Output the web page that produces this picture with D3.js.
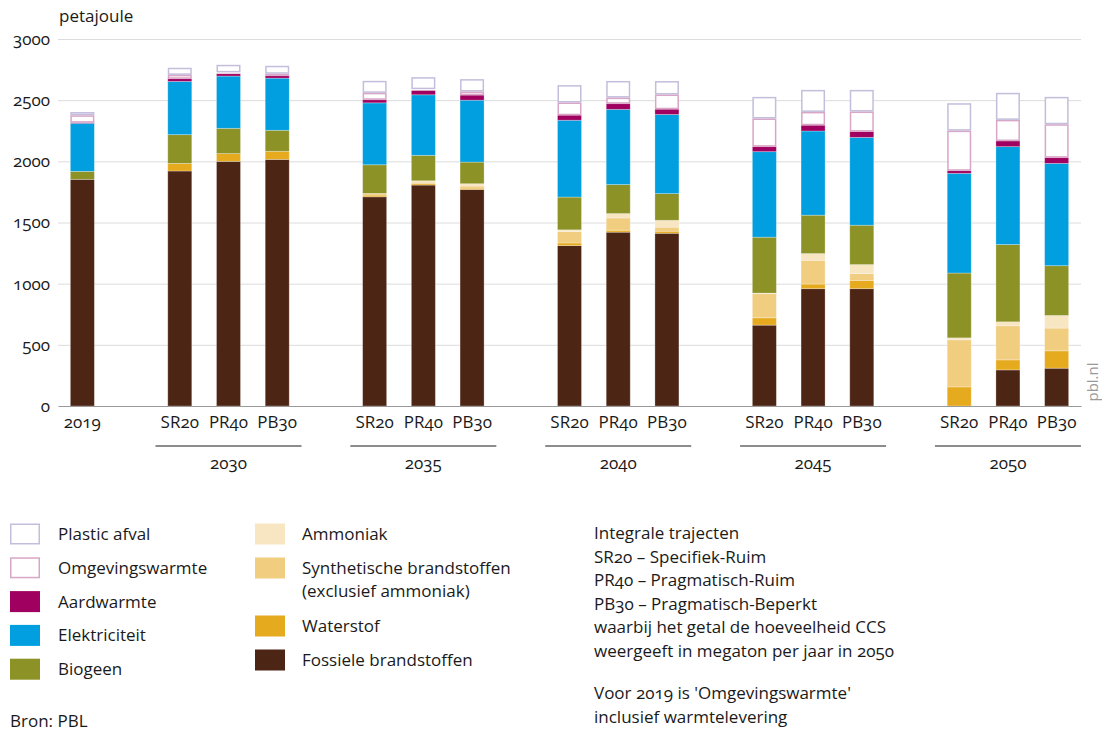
<!DOCTYPE html>
<html>
<head>
<meta charset="utf-8">
<script src="https://cdn.jsdelivr.net/npm/d3@7"></script>
<style>
  html, body { margin: 0; padding: 0; background: #fff; }
  svg { display: block; font-family: "Open Sans", "Noto Sans", sans-serif; font-variant-numeric: oldstyle-nums; font-feature-settings: "onum" 1; }
  text { fill: #1a1a1a; }
</style>
</head>
<body>
<svg id="chart" width="1102" height="731"></svg>
<script>
// ---- data ----
const years = ["2019", "2030", "2035", "2040", "2045", "2050"];
const scenarios = ["SR20", "PR40", "PB30"];
const yTicks = [0, 500, 1000, 1500, 2000, 2500, 3000];
const unitLabel = "petajoule";

// bar order: 2019, then 2030 SR20, PR40, PB30, 2035 ..., 2050
const fossiel      = [1853, 1921, 2000, 2016, 1710, 1806, 1770, 1311, 1421, 1412, 661, 959, 959, 0, 295, 309];
const waterstof    = [0, 62, 63, 66, 14, 11, 11, 22, 16, 17, 60, 38, 68, 156, 82, 142];
const synthetisch  = [0, 0, 0, 0, 14, 13, 17, 93, 100, 33, 197, 194, 55, 385, 279, 186];
const ammoniak     = [0, 0, 0, 0, 0, 11, 19, 14, 36, 56, 5, 55, 74, 16, 32, 103];
const biogeen      = [65, 235, 207, 172, 234, 208, 177, 268, 237, 218, 457, 314, 322, 530, 632, 407];
const elektriciteit= [393, 435, 427, 426, 506, 495, 506, 628, 615, 647, 699, 688, 718, 815, 800, 836];
const aardwarmte   = [5, 22, 19, 19, 25, 35, 41, 41, 46, 43, 41, 47, 47, 21, 46, 47];
const omgevingswarmte = [60, 32, 11, 17, 57, 11, 30, 104, 50, 120, 230, 109, 164, 328, 173, 273];
const plasticAfval = [27, 58, 62, 65, 98, 98, 101, 142, 136, 110, 177, 180, 177, 224, 221, 224];

const seriesNames = ["Fossiele brandstoffen", "Waterstof", "Synthetische brandstoffen (exclusief ammoniak)", "Ammoniak",
                     "Biogeen", "Elektriciteit", "Aardwarmte", "Omgevingswarmte", "Plastic afval"];
const seriesValues = [fossiel, waterstof, synthetisch, ammoniak, biogeen, elektriciteit, aardwarmte, omgevingswarmte, plasticAfval];

const notes = ["Integrale trajecten", "SR20 \u2013 Specifiek-Ruim", "PR40 \u2013 Pragmatisch-Ruim", "PB30 \u2013 Pragmatisch-Beperkt",
               "waarbij het getal de hoeveelheid CCS", "weergeeft in megaton per jaar in 2050"];
const notes2 = ["Voor 2019 is 'Omgevingswarmte'", "inclusief warmtelevering"];
const source = "Bron: PBL";

// ---- styles ----
const FS = 17;
const styles = {
  "Fossiele brandstoffen": { fill: "#4d2514" },
  "Waterstof": { fill: "#e6aa1f" },
  "Synthetische brandstoffen (exclusief ammoniak)": { fill: "#f1cd80" },
  "Ammoniak": { fill: "#f8e5c2" },
  "Biogeen": { fill: "#8c9226" },
  "Elektriciteit": { fill: "#019fdf" },
  "Aardwarmte": { fill: "#a0005f" },
  "Omgevingswarmte": { fill: "#ffffff", stroke: "#d8a6c6" },
  "Plastic afval": { fill: "#ffffff", stroke: "#c4bddc" }
};

// ---- build table ----
const barKeys = [];
barKeys.push({ key: "2019", year: "2019", label: "2019" });
years.slice(1).forEach(y => scenarios.forEach(s => barKeys.push({ key: y + "|" + s, year: y, label: s })));
const rows = barKeys.map((b, i) => {
  const r = { key: b.key, year: b.year, label: b.label };
  seriesNames.forEach((n, j) => r[n] = seriesValues[j][i]);
  return r;
});

// slot domain with gaps between groups
const slots = ["2019"];
years.slice(1).forEach((y, gi) => { slots.push("gap" + gi); scenarios.forEach(s => slots.push(y + "|" + s)); });

const svg = d3.select("#chart");
const x = d3.scaleBand().domain(slots).range([58, 1081]).paddingInner(0.507).paddingOuter(0.2535);
const y = d3.scaleLinear().domain([0, 3000]).range([406, 39]);

// gridlines
svg.append("g")
  .attr("transform", "translate(58,0)")
  .call(d3.axisLeft(y).tickValues(yTicks.filter(t => t > 0)).tickSize(-1023).tickFormat(""))
  .call(g => g.select(".domain").remove())
  .call(g => g.selectAll("line").attr("stroke", "#dcdcdc").attr("stroke-width", 1));

// y labels
svg.append("g")
  .attr("transform", "translate(50,0)")
  .call(d3.axisLeft(y).tickValues(yTicks).tickSize(0).tickPadding(0).tickFormat(d3.format("d")))
  .call(g => g.select(".domain").remove())
  .call(g => g.selectAll("text").attr("font-size", FS).attr("fill", "#1a1a1a").attr("font-family", "Open Sans"));

svg.append("text").attr("x", 59).attr("y", 22).attr("font-size", FS).text(unitLabel);

// stacked bars
const stack = d3.stack().keys(seriesNames);
const stacked = stack(rows);
const layers = svg.append("g").selectAll("g").data(stacked).join("g");
layers.each(function (layer) {
  const st = styles[layer.key];
  const outline = !!st.stroke;
  d3.select(this).selectAll("rect").data(layer.filter(d => d[1] - d[0] > 0)).join("rect")
    .attr("x", d => x(d.data.key) + (outline ? 0.75 : 0))
    .attr("width", x.bandwidth() - (outline ? 1.5 : 0))
    .attr("y", d => y(d[1]) + (outline ? 0.75 : 0))
    .attr("height", d => Math.max(0, y(d[0]) - y(d[1]) - (outline ? 1.5 : 0)))
    .attr("fill", st.fill)
    .attr("stroke", outline ? st.stroke : "#ffffff")
    .attr("stroke-opacity", outline ? 1 : 0.35)
    .attr("stroke-width", outline ? 1.5 : 0.8);
});

// baseline + scenario labels
svg.append("g")
  .attr("transform", "translate(0,406)")
  .call(d3.axisBottom(x).tickValues(barKeys.map(b => b.key)).tickSize(0).tickPadding(10)
        .tickFormat(k => barKeys.find(b => b.key === k).label))
  .call(g => g.select(".domain").attr("stroke", "#9a9a9a").attr("stroke-width", 1.2))
  .call(g => g.selectAll("text").attr("font-size", FS).attr("fill", "#1a1a1a").attr("font-family", "Open Sans"));

// group underline + year labels
years.slice(1).forEach(yr => {
  const c = x(yr + "|PR40") + x.bandwidth() / 2;
  svg.append("line").attr("x1", c - 73).attr("x2", c + 73).attr("y1", 446).attr("y2", 446)
    .attr("stroke", "#1a1a1a").attr("stroke-width", 1);
  svg.append("text").attr("x", c).attr("y", 469).attr("text-anchor", "middle").attr("font-size", FS).text(yr);
});

// pbl.nl
svg.append("text").attr("transform", "translate(1098,382) rotate(-90)").attr("text-anchor", "middle")
  .attr("font-size", 15).style("fill", "#9a9a9a").text("pbl.nl");

// legend
const legendOrder = seriesNames.slice().reverse();
const col1 = legendOrder.slice(0, 5), col2 = legendOrder.slice(5);
function swatch(g, name, sx, cy) {
  const st = styles[name];
  const outline = !!st.stroke;
  g.append("rect").attr("x", sx + (outline ? 0.75 : 0)).attr("y", cy - 10.5 + (outline ? 0.75 : 0))
    .attr("width", 30 - (outline ? 1.5 : 0)).attr("height", 21 - (outline ? 1.5 : 0))
    .attr("fill", st.fill).attr("stroke", outline ? st.stroke : "none").attr("stroke-width", 1.5);
}
const lg = svg.append("g").attr("font-size", FS);
col1.forEach((n, i) => {
  const cy = 534 + i * 33.8;
  swatch(lg, n, 10, cy);
  lg.append("text").attr("x", 58).attr("y", cy).attr("dy", "0.35em").text(n);
});
const col2Y = [534, 568, 626, 660];
col2.forEach((n, i) => {
  const cy = col2Y[i];
  swatch(lg, n, 255, cy);
  if (n.startsWith("Synthetische")) {
    lg.append("text").attr("x", 302).attr("y", cy).attr("dy", "0.35em").text("Synthetische brandstoffen");
    lg.append("text").attr("x", 302).attr("y", cy + 23.5).attr("dy", "0.35em").text("(exclusief ammoniak)");
  } else {
    lg.append("text").attr("x", 302).attr("y", cy).attr("dy", "0.35em").text(n);
  }
});

// notes
const ng = svg.append("g").attr("font-size", FS);
notes.forEach((t, i) => ng.append("text").attr("x", 594).attr("y", 533 + i * 23.6).attr("dy", "0.35em").text(t));
notes2.forEach((t, i) => ng.append("text").attr("x", 594).attr("y", 693 + i * 23.6).attr("dy", "0.35em").text(t));

svg.append("text").attr("x", 10).attr("y", 721).attr("dy", "0.35em").attr("font-size", FS).text(source);
</script>
</body>
</html>
